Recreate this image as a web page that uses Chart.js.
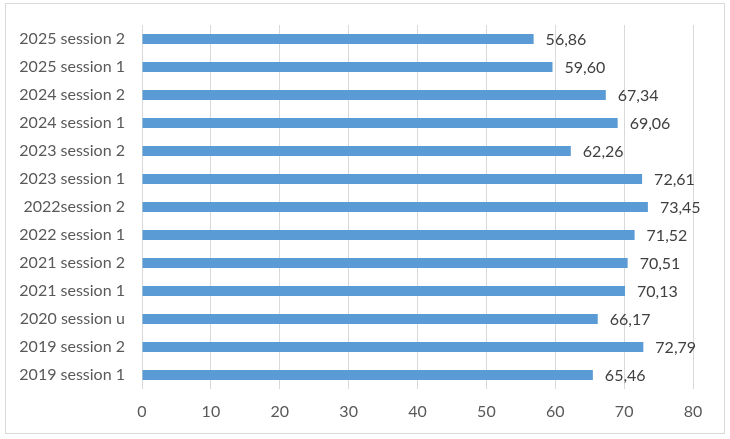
<!DOCTYPE html>
<html>
<head>
<meta charset="utf-8">
<script src="https://cdn.jsdelivr.net/npm/chart.js@4"></script>
<style>
  body { margin: 0; background: #fff; }
  #box { position: absolute; left: 5px; top: 3px; width: 720px; height: 431px; border: 1px solid #d9d9d9; box-sizing: border-box; }
  #wrap { position: absolute; left: 0; top: 0; width: 730px; height: 439px; }
</style>
</head>
<body>
<div id="box"></div>
<div id="wrap"><canvas id="chart"></canvas></div>
<script>
// categories, top to bottom
const sessions = [
  '2025 session 2', '2025 session 1', '2024 session 2', '2024 session 1',
  '2023 session 2', '2023 session 1', '2022session 2', '2022 session 1',
  '2021 session 2', '2021 session 1', '2020 session u', '2019 session 2',
  '2019 session 1'
];
const scores = [56.86, 59.60, 67.34, 69.06, 62.26, 72.61, 73.45, 71.52, 70.51, 70.13, 66.17, 72.79, 65.46];
const xTicks = [0, 10, 20, 30, 40, 50, 60, 70, 80];

const fontFam = 'Lato, "Open Sans", sans-serif';

// draws the value next to each bar, with a comma as decimal mark
const valueLabels = {
  id: 'valueLabels',
  afterDatasetsDraw(chart) {
    const ctx = chart.ctx;
    const meta = chart.getDatasetMeta(0);
    ctx.save();
    ctx.font = '16px ' + fontFam;
    ctx.fillStyle = '#404040';
    ctx.textAlign = 'left';
    ctx.textBaseline = 'middle';
    meta.data.forEach((bar, i) => {
      const txt = scores[i].toFixed(2).replace('.', ',');
      ctx.fillText(txt, bar.x + 12, bar.y + 1);
    });
    ctx.restore();
  }
};

new Chart(document.getElementById('chart'), {
  type: 'bar',
  data: {
    labels: sessions,
    datasets: [{
      data: scores,
      backgroundColor: '#5b9bd5',
      borderWidth: 0,
      categoryPercentage: 1,
      barPercentage: 0.36
    }]
  },
  options: {
    indexAxis: 'y',
    responsive: true,
    maintainAspectRatio: false,
    animation: false,
    layout: { padding: { top: 25, right: 37, left: 0, bottom: 0 } },
    plugins: { legend: { display: false }, tooltip: { enabled: false } },
    scales: {
      x: {
        min: 0, max: 80,
        afterBuildTicks: (s) => { s.ticks = xTicks.map(v => ({ value: v })); },
        grid: { color: '#d9d9d9', drawTicks: false },
        border: { display: false },
        ticks: { color: '#595959', font: { size: 16, family: fontFam }, padding: 13 },
        afterFit: (s) => { s.height = 50; }
      },
      y: {
        grid: { display: false },
        border: { display: false },
        ticks: { color: '#595959', font: { size: 16, family: fontFam }, padding: 9 },
        afterFit: (s) => { s.width = 142; }
      }
    }
  },
  plugins: [valueLabels]
});
</script>
</body>
</html>
